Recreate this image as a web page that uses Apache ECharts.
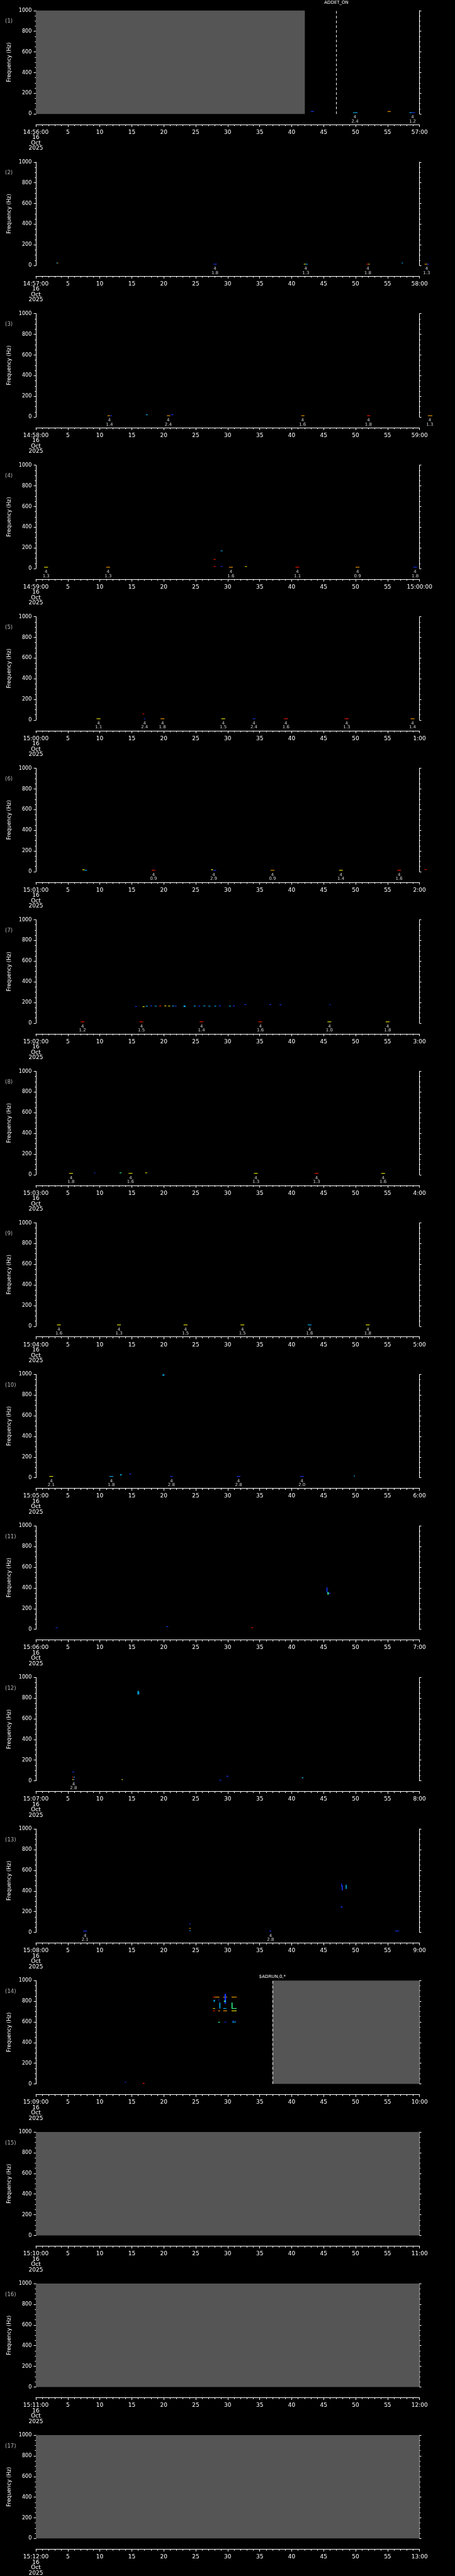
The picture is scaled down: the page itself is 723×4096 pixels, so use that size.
<!DOCTYPE html>
<html><head><meta charset="utf-8">
<script src="https://cdn.jsdelivr.net/npm/echarts@6/dist/echarts.min.js"></script>
<style>html,body{margin:0;padding:0;background:#000;}#c{width:723px;height:4096px;}</style>
</head><body><div id="c"></div>
<script>
// ---------------- DATA ----------------
const panelStart = ['14:56:00','14:57:00','14:58:00','14:59:00','15:00:00','15:01:00','15:02:00','15:03:00','15:04:00','15:05:00','15:06:00','15:07:00','15:08:00','15:09:00','15:10:00','15:11:00','15:12:00'];
const panelEnd = ['57:00','58:00','59:00','15:00:00','1:00','2:00','3:00','4:00','5:00','6:00','7:00','8:00','9:00','10:00','11:00','12:00','13:00'];
const dateLines = ['16','Oct','2025'];
const yAxisTitle = 'Frequency (Hz)';
const markerClass = '4';
// gray (no data) regions: [panel, t0 (s), t1 (s)]
const noDataRegions = [[1,0,42.06],[14,37.0,60],[15,0,60],[16,0,60],[17,0,60]];
// dashed event lines: [panel, t (s), text]
const eventLines = [[1,47.0,'ADDET_ON'],[14,37.0,'$ADRUN,0,*']];

// detection markers: [t (s), value]
const markersP1 = [[49.9,'2.4'],[58.9,'1.2']];
const markersP2 = [[28.0,'1.8'],[42.2,'1.3'],[51.9,'1.8'],[61.1,'1.3']];
const markersP3 = [[11.5,'1.4'],[20.7,'2.4'],[41.7,'1.6'],[52.0,'1.8'],[61.6,'1.3']];
const markersP4 = [[1.6,'1.3'],[11.3,'1.3'],[30.5,'1.6'],[40.9,'1.1'],[50.3,'0.9'],[59.3,'1.8']];
const markersP5 = [[9.8,'1.1'],[17.0,'2.4'],[19.8,'1.8'],[29.3,'1.5'],[34.1,'2.4'],[39.1,'1.6'],[48.6,'1.3'],[58.9,'1.4']];
const markersP6 = [[18.4,'0.9'],[27.8,'2.9'],[37.0,'0.9'],[47.7,'1.4'],[56.8,'1.6']];
const markersP7 = [[7.3,'1.2'],[16.5,'1.5'],[25.9,'1.4'],[35.1,'1.6'],[45.9,'1.0'],[55.0,'1.8']];
const markersP8 = [[5.5,'1.8'],[14.8,'1.6'],[34.4,'1.3'],[43.9,'1.3'],[54.3,'1.6']];
const markersP9 = [[3.6,'1.6'],[13.0,'1.3'],[23.4,'1.5'],[32.3,'1.5'],[42.8,'1.6'],[51.9,'1.8']];
const markersP10 = [[2.4,'2.1'],[11.8,'1.8'],[21.2,'2.8'],[31.7,'2.8'],[41.6,'2.0']];
const markersP11 = [];
const markersP12 = [[5.9,'2.8']];
const markersP13 = [[7.7,'2.1'],[36.7,'2.8']];
const markersP14 = [];
const markersP15 = [];
const markersP16 = [];
const markersP17 = [];

// spectrogram cells: [t0, t1, f0 (Hz), f1 (Hz), colour key]
const cellsP1 = [[43.0,43.5,22,27,'b'],[49.6,50.3,11,16,'c'],[55.0,55.5,22,27,'o'],[58.4,58.8,11,16,'c'],[58.8,59.3,11,16,'b']];
const cellsP2 = [[3.2,3.35,22,27,'c'],[3.35,3.5,22,27,'o'],[27.8,28.3,11,16,'b'],[41.9,42.2,11,16,'y'],[42.2,42.5,11,16,'c'],[51.7,52.0,11,16,'r'],[52.0,52.2,11,16,'y'],[57.2,57.4,22,27,'c'],[60.8,61.2,11,16,'o'],[61.2,61.5,11,16,'b']];
const cellsP3 = [[11.2,11.6,11,16,'o'],[11.6,11.9,11,16,'b'],[17.2,17.5,20,25,'c'],[20.5,21.0,11,16,'o'],[21.1,21.5,20,25,'b'],[41.5,42.0,11,16,'o'],[51.8,52.3,11,16,'r'],[61.3,62.0,11,16,'o']];
const cellsP4 = [[1.3,1.9,11,16,'y'],[11.0,11.6,11,16,'o'],[27.8,28.1,86,92,'r'],[27.8,28.1,18,23,'r'],[28.9,29.2,168,174,'c'],[28.9,29.2,18,23,'b'],[30.2,30.8,11,16,'o'],[32.7,33.0,18,23,'y'],[40.6,41.2,11,16,'r'],[50.0,50.6,11,16,'o'],[59.0,59.6,11,16,'b']];
const cellsP5 = [[9.5,10.1,11,16,'y'],[16.7,16.95,58,64,'r'],[16.9,17.1,11,16,'b'],[19.5,20.1,11,16,'o'],[29.0,29.6,11,16,'y'],[33.9,34.3,11,16,'b'],[38.8,39.4,11,16,'r'],[48.3,48.9,11,16,'r'],[58.6,59.2,11,16,'o']];
const cellsP6 = [[7.3,7.6,14,22,'y'],[7.6,8.0,11,16,'c'],[18.1,18.7,11,16,'r'],[27.4,27.7,14,22,'y'],[27.7,28.2,11,16,'b'],[36.7,37.3,11,16,'o'],[47.4,48.0,11,16,'y'],[56.5,57.1,11,16,'r'],[60.8,61.1,18,23,'r']];
const cellsP7 = [[7.0,7.6,11,16,'r'],[16.2,16.8,11,16,'r'],[25.6,26.2,11,16,'r'],[34.8,35.4,11,16,'r'],[45.6,46.2,11,16,'y'],[54.7,55.3,11,16,'y'],
  [15.5,15.8,159,165,'b'],[16.7,17.0,156,163,'y'],[17.2,17.5,162,168,'c'],[17.9,18.2,165,171,'b'],[18.6,18.9,162,168,'c'],[19.3,19.6,163,169,'r'],[20.1,20.4,164,170,'y'],[20.7,21.0,163,169,'y'],[21.3,21.6,163,169,'c'],[21.7,22.0,162,168,'b'],[23.1,23.4,156,170,'c'],[24.7,25.0,163,169,'c'],[25.4,25.7,162,168,'b'],[26.2,26.5,164,170,'c'],[27.0,27.3,162,168,'c'],[27.9,28.2,162,168,'c'],[28.6,28.9,165,171,'b'],[30.2,30.5,162,168,'c'],[30.8,31.1,164,170,'b'],[32.6,32.9,177,183,'b'],[36.5,36.8,177,183,'b'],[38.1,38.4,175,181,'b'],[45.9,46.1,177,183,'b']];
const cellsP8 = [[5.2,5.8,11,16,'y'],[9.1,9.3,16,21,'b'],[13.1,13.4,16,21,'g'],[14.5,15.1,11,16,'y'],[17.1,17.4,16,21,'y'],[34.1,34.7,11,16,'y'],[43.6,44.2,11,16,'r'],[54.0,54.6,11,16,'y']];
const cellsP9 = [[3.3,3.9,11,16,'y'],[12.7,13.3,11,16,'y'],[23.1,23.7,11,16,'y'],[32.0,32.6,11,16,'y'],[42.5,43.1,11,16,'c'],[51.6,52.2,11,16,'y']];
const cellsP10 = [[2.1,2.7,11,16,'y'],[11.5,12.1,11,16,'c'],[13.2,13.4,22,35,'c'],[14.6,14.9,34,39,'b'],[19.8,20.1,988,1000,'c'],[21.0,21.4,11,16,'b'],[31.4,32.0,11,16,'b'],[41.3,41.9,11,16,'b'],[49.7,49.9,14,20,'c']];
const cellsP11 = [[3.1,3.4,14,19,'b'],[20.4,20.7,24,29,'b'],[33.7,34.0,14,19,'r'],[45.45,45.6,355,405,'b'],[45.6,45.8,335,360,'g'],[45.8,46.1,345,352,'b']];
const cellsP12 = [[5.7,6.0,82,88,'b'],[5.7,5.9,34,39,'r'],[5.9,6.1,34,39,'c'],[5.7,5.95,10,15,'y'],[5.95,6.1,10,15,'b'],[13.4,13.6,10,15,'y'],[28.7,29.0,5,9,'b'],[29.8,30.1,40,48,'b'],[41.6,41.8,25,35,'c'],[15.9,16.1,835,870,'c'],[16.1,16.25,845,852,'c']];
const cellsP13 = [[7.4,8.0,11,16,'b'],[24.0,24.2,80,85,'b'],[24.0,24.2,37,42,'o'],[24.0,24.2,15,20,'c'],[36.5,36.8,11,16,'b'],[47.75,47.85,440,475,'b'],[47.85,48.0,405,455,'b'],[48.45,48.6,420,460,'c'],[47.7,47.9,240,252,'b'],[56.2,56.8,12,17,'b']];
const cellsP14 = [[13.9,14.1,14,19,'b'],[16.7,17.0,5,9,'r'],
  [27.7,28.0,838,843,'r'],[28.0,28.7,838,843,'o'],[29.3,29.9,838,843,'o'],[30.6,31.4,838,843,'o'],
  [27.8,28.0,795,813,'c'],[28.5,28.7,808,815,'b'],[29.5,29.75,777,870,'b'],[28.7,28.85,730,787,'c'],[29.4,29.7,795,805,'g'],
  [27.7,28.0,727,733,'y'],[29.3,29.8,727,733,'c'],[30.6,31.4,727,733,'g'],[30.6,30.75,733,787,'g'],
  [27.7,28.0,704,710,'r'],[28.5,28.8,704,710,'o'],[29.3,29.9,704,710,'o'],[30.6,31.4,704,710,'y'],
  [28.5,28.8,595,600,'g'],[29.5,29.75,595,600,'b'],[30.7,31.3,595,602,'c'],[30.8,30.95,602,615,'b']];
const cellsP15 = [];
const cellsP16 = [];
const cellsP17 = [];

// ---------------- STYLE / LAYOUT ----------------
const markersAll = [markersP1,markersP2,markersP3,markersP4,markersP5,markersP6,markersP7,markersP8,markersP9,markersP10,markersP11,markersP12,markersP13,markersP14,markersP15,markersP16,markersP17];
const cellsAll = [cellsP1,cellsP2,cellsP3,cellsP4,cellsP5,cellsP6,cellsP7,cellsP8,cellsP9,cellsP10,cellsP11,cellsP12,cellsP13,cellsP14,cellsP15,cellsP16,cellsP17];
const cellColor = {b:'#1438ff', c:'#00b8ff', g:'#38ff8c', y:'#f4f000', o:'#ffa000', r:'#ff1800'};
const S = 0.706;
const PANEL_H = 341.29 * S;
const FONT = 'DejaVu Sans';
const WHITE = '#ffffff';

const grids = [], xAxes = [], yAxes = [], series = [], graphics = [];
for (let i = 0; i < 17; i++) {
  const top = i * PANEL_H + 23.8 * S;
  grids.push({left: 80.7 * S, top: top, width: 863.6 * S, height: 232.8 * S, containLabel: false});
  xAxes.push({
    gridIndex: i, type: 'value', min: 0, max: 60, interval: 5, position: 'bottom', offset: 24 * S,
    axisLine: {show: true, onZero: false, lineStyle: {color: WHITE, width: 1}},
    axisTick: {show: true, length: 5.3 * S, lineStyle: {color: WHITE, width: 1}},
    minorTick: {show: true, splitNumber: 5, length: 3.3 * S, lineStyle: {color: WHITE, width: 1}},
    splitLine: {show: false}, minorSplitLine: {show: false},
    axisLabel: {
      show: true, color: WHITE, fontFamily: FONT, fontSize: 9, margin: 8.2, lineHeight: 8.5,
      showMinLabel: true, showMaxLabel: true, hideOverlap: false,
      formatter: (v) => v === 0 ? [panelStart[i]].concat(dateLines).join('\n') : (v === 60 ? panelEnd[i] : String(v))
    }
  });
  const yCommon = {type: 'value', min: 0, max: 1000, interval: 200, splitLine: {show: false}, minorSplitLine: {show: false}};
  yAxes.push(Object.assign({}, yCommon, {
    gridIndex: i, position: 'left',
    axisLine: {show: true, lineStyle: {color: WHITE, width: 1}},
    axisTick: {show: true, length: 4.7 * S, lineStyle: {color: WHITE, width: 1}},
    minorTick: {show: true, splitNumber: 4, length: 2.3 * S, lineStyle: {color: WHITE, width: 1}},
    axisLabel: {show: true, color: WHITE, fontFamily: FONT, fontSize: 8.1, margin: 6.6, formatter: v => String(v)},
    name: yAxisTitle, nameLocation: 'middle', nameGap: 36,
    nameTextStyle: {color: WHITE, fontFamily: FONT, fontSize: 8.4}
  }));
  yAxes.push(Object.assign({}, yCommon, {
    gridIndex: i, position: 'right',
    axisLine: {show: true, lineStyle: {color: WHITE, width: 1}},
    axisTick: {show: true, length: 4.0 * S, lineStyle: {color: WHITE, width: 1}},
    minorTick: {show: true, splitNumber: 4, length: 2.0 * S, lineStyle: {color: WHITE, width: 1}},
    axisLabel: {show: false}
  }));

  // gray no-data regions + dashed event lines
  const areas = noDataRegions.filter(r => r[0] === i + 1).map(r => [{xAxis: r[1], yAxis: 0}, {xAxis: r[2], yAxis: 1000}]);
  const lines = eventLines.filter(r => r[0] === i + 1).map(r => ({
    xAxis: r[1],
    label: {show: true, position: 'end', formatter: r[2], color: WHITE, fontFamily: FONT, fontSize: 7,
            distance: (r[2] === 'ADDET_ON' ? 9 : 2.5)}
  }));
  series.push({
    type: 'scatter', xAxisIndex: i, yAxisIndex: 2 * i, data: [], silent: true, z: 1,
    markArea: {silent: true, itemStyle: {color: '#555555', borderWidth: 0}, data: areas},
    markLine: {silent: true, symbol: ['none', 'none'], animation: false,
      lineStyle: {color: WHITE, width: 1, type: [4, 3.6]}, data: lines}
  });

  // spectrogram cells
  const cells = cellsAll[i];
  series.push({
    type: 'custom', xAxisIndex: i, yAxisIndex: 2 * i, clip: false, silent: true, z: 3,
    data: cells.map(c => [c[0], c[1], c[2], c[3]]),
    renderItem: function (params, api) {
      const c = cells[params.dataIndex];
      const p0 = api.coord([c[0], c[3]]);
      const p1 = api.coord([c[1], c[2]]);
      return {type: 'rect', shape: {x: p0[0], y: p0[1], width: Math.max(p1[0] - p0[0], 1), height: Math.max(p1[1] - p0[1], 1.1)},
              style: {fill: cellColor[c[4]]}};
    }
  });

  // detection markers text
  series.push({
    type: 'scatter', xAxisIndex: i, yAxisIndex: 2 * i, clip: false, silent: true, z: 4,
    symbolSize: 1, itemStyle: {color: 'rgba(0,0,0,0)'},
    data: markersAll[i].map(m => [m[0], 0, m[1]]),
    label: {show: true, position: 'bottom', distance: 1.6, color: WHITE, fontFamily: FONT, fontSize: 7, lineHeight: 6.4,
            formatter: p => markerClass + '\n' + p.data[2]}
  });

  graphics.push({type: 'text', left: 11.5 * S, top: i * PANEL_H + 42 * S,
    style: {text: '(' + (i + 1) + ')', fill: '#b4b4b4', font: '8.5px "' + FONT + '"'}});
}

const chart = echarts.init(document.getElementById('c'), null, {renderer: 'canvas'});
chart.setOption({
  backgroundColor: '#000000', animation: false,
  grid: grids, xAxis: xAxes, yAxis: yAxes, series: series, graphic: graphics
});
</script></body></html>
